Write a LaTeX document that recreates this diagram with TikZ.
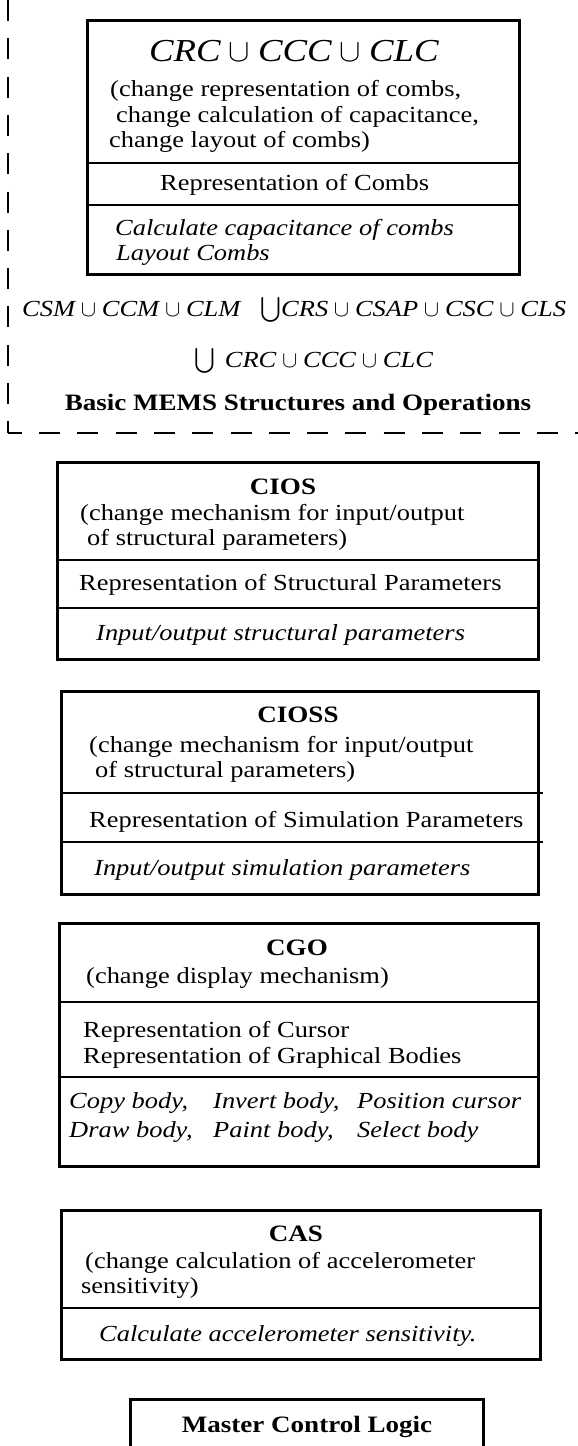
\RequirePackage{fix-cm}
\documentclass[tikz,border=0pt]{standalone}
\usepackage{exscale}
\usepackage{fontspec}
\setmainfont{Liberation Serif}[FakeStretch=1.15]
% union sign set between italic names
\newcommand\un{\kern0.25em$\cup$\kern0.25em}
\begin{document}
\begin{tikzpicture}[x=1pt,y=-1pt,
  frame/.style={draw, line width=2.6pt, inner sep=0pt, anchor=north west},
  rule/.style={line width=2.6pt},
  txt/.style={anchor=base west, inner sep=0pt, font=\fontsize{23}{25}\selectfont},
  itxt/.style={txt, font=\fontsize{23}{25}\selectfont\itshape},
  ttl/.style={anchor=base, inner sep=0pt, font=\fontsize{23.5}{28}\selectfont\bfseries},
  expr/.style={anchor=base west, inner sep=0pt, font=\fontsize{23}{25}\selectfont\itshape},
  formula/.style={anchor=base west, inner sep=0pt, font=\fontsize{32}{36}\selectfont\itshape},
  boundary/.style={line width=2pt, dash pattern=on 21pt off 17.3pt},
]
\useasboundingbox (0,0) rectangle (578,1446);

% ---- dashed boundary of the basic structures package
\coordinate (bTop) at (8,0);
\coordinate (bCorner) at (8,433);
\coordinate (bEnd) at (578,433);
\draw[boundary] (bTop) -- (bCorner);
\draw[boundary, dash phase=7.3pt] (bCorner) -- (bEnd);

% ---- combs
\node[frame, minimum width=432pt, minimum height=254pt] (combs) at (86,19) {};
\draw[rule] (combs.west |- 0,163) -- (combs.east |- 0,163);
\draw[rule] (combs.west |- 0,205) -- (combs.east |- 0,205);
\node[formula] (sig) at (149,61) {CRC\un CCC\un CLC};
\node[txt] (c1) at (110,96) {(change representation of combs,};
\node[txt] (c2) at (116,122) {change calculation of capacitance,};
\node[txt] (c3) at (109,147) {change layout of combs)};
\node[txt] (c4) at (160,190) {Representation of Combs};
\node[itxt] (c5) at (115,235) {Calculate capacitance of combs};
\node[itxt] (c6) at (116,260) {Layout Combs};

% ---- union of the basic components
\node[expr] (u1) at (22,316) {CSM\un CCM\un CLM\hspace{20pt}$\bigcup$CRS\un CSAP\un CSC\un CLS};
\node[expr] (u2) at (194,367) {$\bigcup$\kern10pt CRC\un CCC\un CLC};
\node[ttl] (basic) at (298,410) {Basic MEMS Structures and Operations};

% ---- CIOS
\node[frame, minimum width=481pt, minimum height=197pt] (cios) at (56,461) {};
\draw[rule] (cios.west |- 0,560) -- (cios.east |- 0,560);
\draw[rule] (cios.west |- 0,608) -- (cios.east |- 0,608);
\node[ttl] (ciosT) at (283,494) {CIOS};
\node[txt] (i1) at (80,520) {(change mechanism for input/output};
\node[txt] (i2) at (87,545) {of structural parameters)};
\node[txt] (i3) at (79,590) {Representation of Structural Parameters};
\node[itxt] (i4) at (96,640) {Input/output structural parameters};

% ---- CIOSS
\node[frame, minimum width=477pt, minimum height=203pt] (cioss) at (60,690) {};
\draw[rule] (cioss.west |- 0,793) -- ([xshift=3pt]cioss.east |- 0,793);
\draw[rule] (cioss.west |- 0,842) -- ([xshift=3pt]cioss.east |- 0,842);
\node[ttl] (ciossT) at (298,722) {CIOSS};
\node[txt] (s1) at (89,752) {(change mechanism for input/output};
\node[txt] (s2) at (95,777) {of structural parameters)};
\node[txt] (s3) at (89,827) {Representation of Simulation Parameters};
\node[itxt] (s4) at (94,875) {Input/output simulation parameters};

% ---- CGO
\node[frame, minimum width=479pt, minimum height=243pt] (cgo) at (58,922) {};
\draw[rule] (cgo.west |- 0,1002) -- (cgo.east |- 0,1002);
\draw[rule] (cgo.west |- 0,1077) -- (cgo.east |- 0,1077);
\node[ttl] (cgoT) at (297,955) {CGO};
\node[txt] (g1) at (86,983) {(change display mechanism)};
\node[txt] (g2) at (83,1037) {Representation of Cursor};
\node[txt] (g3) at (83,1063) {Representation of Graphical Bodies};
\node[itxt] (g4) at (69,1108) {Copy body,};
\node[itxt] (g5) at (213,1108) {Invert body,};
\node[itxt] (g6) at (357,1108) {Position cursor};
\node[itxt] (g7) at (69,1137) {Draw body,};
\node[itxt] (g8) at (213,1137) {Paint body,};
\node[itxt] (g9) at (357,1137) {Select body};

% ---- CAS
\node[frame, minimum width=479pt, minimum height=149pt] (cas) at (60,1209) {};
\draw[rule] (cas.west |- 0,1308) -- (cas.east |- 0,1308);
\node[ttl] (casT) at (296,1241) {CAS};
\node[txt] (a1) at (85,1268) {(change calculation of accelerometer};
\node[txt] (a2) at (81,1293) {sensitivity)};
\node[itxt] (a3) at (99,1341) {Calculate accelerometer sensitivity.};

% ---- master control logic, running past the lower edge
\begin{scope}
  \clip (0,0) rectangle (578,1446);
  \node[frame, minimum width=353pt, minimum height=80pt] (mcl) at (129,1398) {};
\end{scope}
\node[ttl] (mclT) at (307,1432) {Master Control Logic};
\end{tikzpicture}
\end{document}
